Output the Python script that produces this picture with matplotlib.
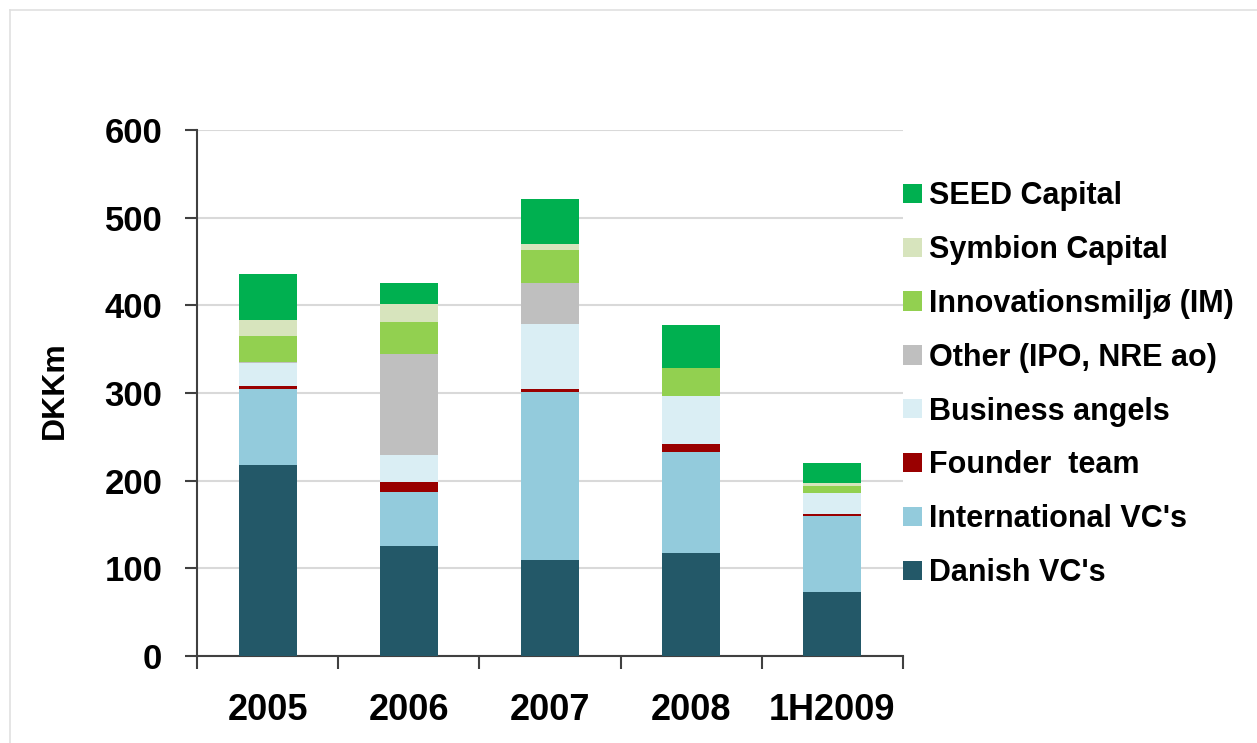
import matplotlib
matplotlib.use("Agg")
import matplotlib.pyplot as plt
from matplotlib.patches import Patch
import numpy as np

categories = ["2005", "2006", "2007", "2008", "1H2009"]
danish_vcs = [218, 125, 109, 118, 73]
international_vcs = [87, 62, 192, 115, 87]
founder_team = [3, 11, 3, 9, 2]
business_angels = [26, 31, 75, 55, 24]
other = [1, 116, 46, 0, 0]
innovationsmiljo = [30, 36, 38, 32, 8]
symbion_capital = [18, 21, 7, 0, 3]
seed_capital = [53, 23, 51, 48, 23]

series_names = ["Danish VC's", "International VC's", "Founder  team", "Business angels",
                "Other (IPO, NRE ao)", "Innovationsmiljø (IM)", "Symbion Capital", "SEED Capital"]
series_values = [danish_vcs, international_vcs, founder_team, business_angels,
                 other, innovationsmiljo, symbion_capital, seed_capital]
colors = ["#235868", "#93CBDC", "#990000", "#DAEEF4", "#BFBFBF", "#92D050", "#D7E4BD", "#00B050"]
yticks = [0, 100, 200, 300, 400, 500, 600]

plt.rcParams['font.family'] = ['Liberation Sans', 'DejaVu Sans']

fig = plt.figure(figsize=(12.57, 7.43), dpi=100)
ax = fig.add_axes([197/1257, 1 - 656/743, (903-197)/1257, (656-130)/743])

x = np.arange(len(categories))
bottom = np.zeros(len(categories))
handles = []
for name, vals, c in zip(series_names, series_values, colors):
    vals = np.array(vals, dtype=float)
    ax.bar(x, vals, width=0.41, bottom=bottom, color=c, edgecolor='none', zorder=3)
    bottom += vals
    handles.append(Patch(facecolor=c, edgecolor='none', label=name))

ax.set_xlim(-0.5, len(categories) - 0.5)
ax.set_ylim(0, 600)
ax.set_yticks(yticks)
ax.set_yticklabels([str(t) for t in yticks], fontsize=25, fontweight='bold')
ax.set_xticks(x)
ax.set_xticklabels(categories, fontsize=26, fontweight='bold')
ax.tick_params(axis='x', length=0, pad=27)
ax.set_xticks(np.arange(len(categories) + 1) - 0.5, minor=True)
ax.tick_params(axis='x', which='minor', length=9, width=1.5, color='#404040', direction='out')
ax.tick_params(axis='y', length=9, width=1.5, color='#404040', direction='out', pad=16)
ax.grid(axis='y', color='#D9D9D9', linewidth=1.5, zorder=0)
ax.set_axisbelow(True)
for s in ['top', 'right']:
    ax.spines[s].set_visible(False)
for s in ['left', 'bottom']:
    ax.spines[s].set_color('#404040')
    ax.spines[s].set_linewidth(1.5)
ax.set_ylabel("DKKm", fontsize=23, fontweight='bold')
ax.yaxis.set_label_coords(-0.18, 0.505)

leg = fig.legend(handles=handles[::-1], loc='upper left',
                 bbox_to_anchor=(891/1257, 1 - 169/743), frameon=False,
                 fontsize=22, handlelength=0.6, handleheight=0.6,
                 handletextpad=0.25, labelspacing=0.78, borderaxespad=0)
for t in leg.get_texts():
    t.set_fontweight('bold')

# faint frame around the picture
fig.add_artist(plt.Line2D([10/1257, 1], [1 - 10/743, 1 - 10/743], color='#E0E0E0', lw=1.2))
fig.add_artist(plt.Line2D([10/1257, 10/1257], [0, 1 - 10/743], color='#E0E0E0', lw=1.2))

fig.savefig("out.png", dpi=100)
